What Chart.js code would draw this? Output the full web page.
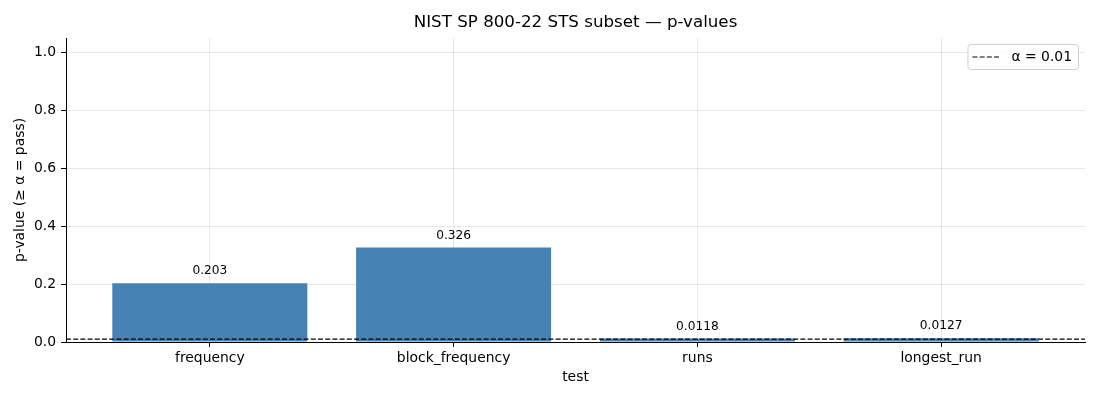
<!DOCTYPE html>
<html>
  <head>
    <title>Chart</title>
    <meta charset="UTF-8" />
    <script src="https://cdn.jsdelivr.net/npm/chart.js@4.4.1/dist/chart.umd.min.js"></script>
    <style>
      body { margin: 0; background: #fff; }
      #wrap { width: 1100px; height: 400px; }
    </style>
  </head>
  <body>
    <div id="wrap"><canvas id="myChart"></canvas></div>
    <script>
      var tests = ["frequency", "block_frequency", "runs", "longest_run"];
      var pvalues = [0.203, 0.326, 0.0118, 0.0127];
      var alpha = 0.01;
      var yTicks = [0.0, 0.2, 0.4, 0.6, 0.8, 1.0];
      var xIdx = [0, 1, 2, 3];

      var xMin = -0.59, xMax = 3.59;
      var FONT = "DejaVu Sans";
      var gridColor = "rgba(176,176,176,0.3)";

      Chart.defaults.font.family = FONT;
      Chart.defaults.color = "#000";

      // title centred over the axes, like matplotlib
      var titlePlugin = {
        id: "axTitle",
        afterDraw: function(chart) {
          var ctx = chart.ctx, a = chart.chartArea;
          ctx.save();
          ctx.font = "16.7px '" + FONT + "'";
          ctx.fillStyle = "#000";
          ctx.textAlign = "center";
          ctx.textBaseline = "middle";
          ctx.fillText("NIST SP 800-22 STS subset \u2014 p-values", (a.left + a.right) / 2, 23);
          ctx.restore();
        }
      };

      // numbers above the bars
      var barLabels = {
        id: "barLabels",
        afterDatasetsDraw: function(chart) {
          var ctx = chart.ctx;
          var meta = chart.getDatasetMeta(0);
          ctx.save();
          ctx.font = "12.2px '" + FONT + "'";
          ctx.fillStyle = "#000";
          ctx.textAlign = "center";
          ctx.textBaseline = "bottom";
          meta.data.forEach(function(bar, i) {
            ctx.fillText(pvalues[i].toPrecision(3), bar.x, bar.y - 6);
          });
          ctx.restore();
        }
      };

      // matplotlib style legend box
      var legendBox = {
        id: "legendBox",
        afterDraw: function(chart) {
          var ctx = chart.ctx, a = chart.chartArea;
          var label = chart.data.datasets[1].label;
          ctx.save();
          ctx.font = "13.9px '" + FONT + "'";
          var tw = ctx.measureText(label).width;
          var w = tw + 50, h = 25;
          var x = a.right - 7 - w, y = a.top + 6;
          ctx.beginPath();
          ctx.roundRect(x + 0.5, y + 0.5, w, h, 3);
          ctx.fillStyle = "rgba(255,255,255,0.8)";
          ctx.fill();
          ctx.strokeStyle = "#d0d0d0";
          ctx.lineWidth = 1;
          ctx.stroke();
          ctx.beginPath();
          ctx.setLineDash([5, 2.2]);
          ctx.strokeStyle = "#000";
          ctx.moveTo(x + 5, y + h / 2 + 0.5);
          ctx.lineTo(x + 33, y + h / 2 + 0.5);
          ctx.stroke();
          ctx.setLineDash([]);
          ctx.fillStyle = "#000";
          ctx.textBaseline = "middle";
          ctx.fillText(label, x + 44, y + h / 2 + 1);
          ctx.restore();
        }
      };

      var ctx = document.getElementById("myChart").getContext("2d");
      var chart = new Chart(ctx, {
        type: "bar",
        data: {
          datasets: [
            {
              type: "bar",
              label: "p-value",
              data: xIdx.map(function(i) { return { x: i, y: pvalues[i] }; }),
              backgroundColor: "#4682b4",
              borderWidth: 0,
              categoryPercentage: 1.0,
              barPercentage: 0.8,
              order: 2
            },
            {
              type: "line",
              label: "\u03b1 = 0.01",
              data: [{ x: xMin, y: alpha }, { x: xMax, y: alpha }],
              borderColor: "#000",
              borderWidth: 1.2,
              borderDash: [5, 2.2],
              pointRadius: 0,
              fill: false,
              order: 1
            }
          ]
        },
        options: {
          responsive: true,
          maintainAspectRatio: false,
          devicePixelRatio: 1,
          animation: false,
          layout: { padding: { top: 38, right: 15, left: 0, bottom: 0 } },
          plugins: {
            legend: { display: false },
            title: { display: false },
            tooltip: { enabled: false }
          },
          scales: {
            x: {
              type: "linear",
              min: xMin,
              max: xMax,
              offset: false,
              z: 1,
              afterBuildTicks: function(scale) {
                scale.ticks = xIdx.map(function(v) { return { value: v }; });
              },
              afterFit: function(scale) { scale.height = 58; },
              ticks: {
                font: { size: 13.9 },
                padding: 3,
                maxRotation: 0,
                autoSkip: false,
                callback: function(v) { return tests[v]; }
              },
              grid: { offset: false, color: gridColor, tickColor: "#000", tickLength: 5, tickWidth: 1 },
              border: { color: "#000", width: 1 },
              title: { display: true, text: "test", font: { size: 13.9 }, padding: { top: 0, bottom: 14 } }
            },
            y: {
              min: 0,
              max: 1.05,
              z: 1,
              afterBuildTicks: function(scale) {
                scale.ticks = yTicks.map(function(v) { return { value: v }; });
              },
              afterFit: function(scale) { scale.width = 66; },
              ticks: {
                font: { size: 13.9 },
                padding: 5,
                callback: function(v) { return v.toFixed(1); }
              },
              grid: { color: gridColor, tickColor: "#000", tickLength: 5, tickWidth: 1 },
              border: { color: "#000", width: 1 },
              title: { display: true, text: "p-value (\u2265 \u03b1 = pass)", font: { size: 13.9 }, padding: { top: 12.5, bottom: 0 } }
            }
          }
        },
        plugins: [titlePlugin, barLabels, legendBox]
      });
    </script>
  </body>
</html>
